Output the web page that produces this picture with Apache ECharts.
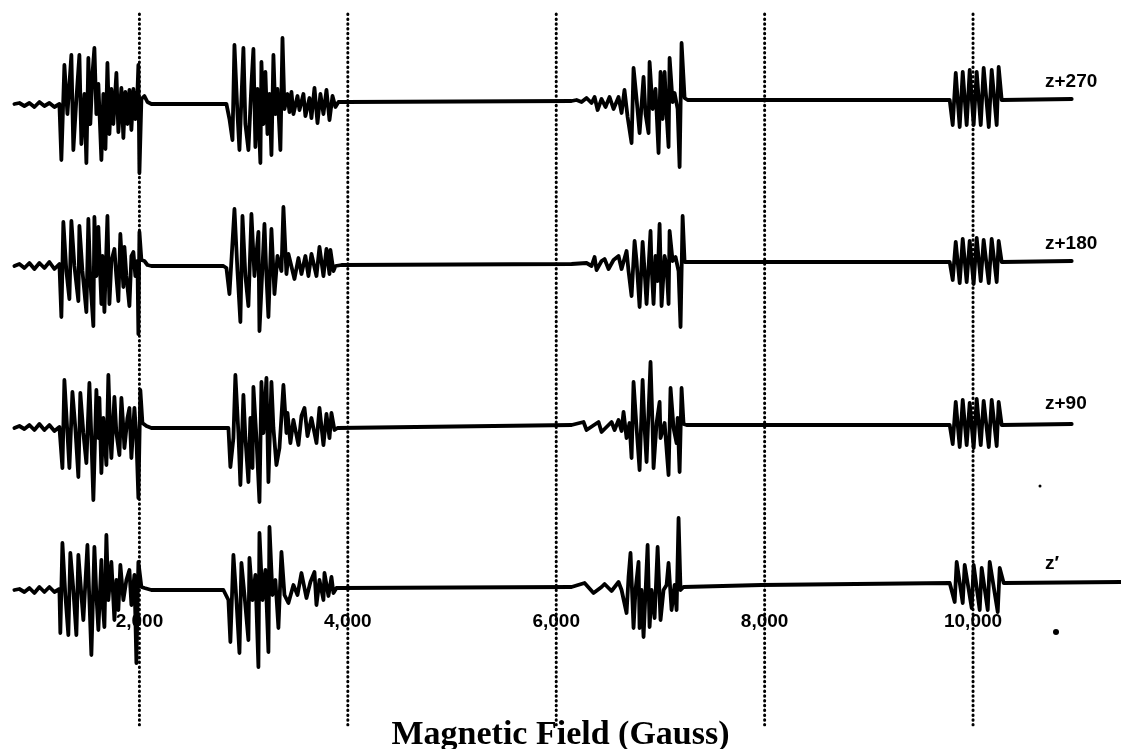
<!DOCTYPE html>
<html><head><meta charset="utf-8">
<script src="https://cdn.jsdelivr.net/npm/echarts@6/dist/echarts.min.js"></script>
<style>html,body{margin:0;padding:0;background:#fff}#c{width:1121px;height:749px}</style>
</head><body><div id="c"></div>
<script>
// Trace labels (top to bottom)
const traceNames = ['z+270', 'z+180', 'z+90', 'z\u2032'];

// Field (Gauss), signal (arbitrary units, + = up)
const traceZ270 = [
 [800,0],[848,1],[896,-2],[944,1],[992,-3],[1040,2],[1088,-2],[1136,1],[1184,-3],[1232,0],
 [1251,-56],[1280,39],[1309,-10],[1347,49],[1366,-46],[1395,5],[1424,49],[1443,-40],[1472,10],[1491,-59],
 [1510,46],[1529,-20],[1549,30],[1568,56],[1587,-10],[1606,20],[1635,-56],[1654,10],[1674,-45],[1693,41],
 [1712,-30],[1731,15],[1750,-20],[1779,31],[1798,-28],[1827,16],[1846,-34],[1865,12],[1885,-20],[1904,14],
 [1923,-26],[1942,15],[1961,-15],[1981,12],[1990,39],[2000,-69],[2019,5],[2048,8],[2077,2],[2115,0],
 [2835,0],[2864,-15],[2893,-36],[2912,59],[2941,-10],[2960,-46],[2998,56],[3017,-20],[3046,-46],[3075,20],
 [3094,55],[3113,-43],[3133,15],[3161,-59],[3171,42],[3190,-20],[3209,32],[3229,-30],[3248,10],[3267,-51],
 [3286,49],[3305,-10],[3325,15],[3353,-46],[3373,66],[3392,-5],[3421,10],[3440,-8],[3459,12],[3478,-10],
 [3517,8],[3536,-6],[3574,10],[3593,-12],[3632,6],[3651,-14],[3680,16],[3709,-19],[3737,10],[3766,-10],
 [3795,14],[3824,-16],[3853,8],[3881,-3],[3910,2],[3987,2],
 [6147,3],[6195,4],[6243,2],[6291,6],[6339,1],[6368,7],[6397,-6],[6435,5],[6473,-3],[6512,7],
 [6550,-5],[6598,7],[6627,-9],[6655,14],[6685,-13],[6723,-39],[6742,36],[6771,5],[6800,-29],[6838,27],
 [6857,-10],[6886,-29],[6896,42],[6925,-5],[6953,15],[6982,-49],[7001,32],[7021,-15],[7040,32],[7059,-10],
 [7078,-43],[7088,46],[7117,2],[7136,11],[7165,-5],[7184,-63],[7203,61],[7232,6],[7261,4],[7971,4],
 [9776,4],[9805,-21],[9834,31],[9872,-23],[9901,32],[9939,-21],[9968,34],[10006,-21],[10035,32],[10074,-21],
 [10102,36],[10151,-23],[10179,34],[10227,-21],[10246,37],[10275,4],[10947,5]
];

const traceZ180 = [
 [800,0],[848,2],[896,-2],[944,3],[992,-3],[1040,3],[1088,-2],[1136,4],[1184,-3],[1232,2],
 [1251,-51],[1270,44],[1299,-5],[1328,-33],[1347,45],[1376,0],[1414,-35],[1424,40],[1453,-5],[1491,-46],
 [1510,47],[1529,-15],[1558,-60],[1568,49],[1587,-10],[1606,39],[1635,-38],[1645,10],[1664,-46],[1693,50],
 [1712,-38],[1731,5],[1760,17],[1779,-11],[1798,-35],[1817,32],[1837,-5],[1846,-21],[1856,19],[1875,-10],
 [1904,-40],[1923,10],[1942,14],[1961,-10],[1981,5],[1990,-68],[2000,34],[2019,6],[2048,5],[2077,1],[2115,0],
 [2806,0],[2835,-2],[2864,-28],[2912,57],[2941,-5],[2969,-56],[2989,50],[3017,-10],[3046,-40],[3075,52],
 [3104,-10],[3142,34],[3152,-65],[3200,42],[3219,-10],[3238,-51],[3267,37],[3296,-28],[3325,10],[3363,-5],
 [3382,59],[3411,-8],[3430,12],[3488,-13],[3526,8],[3555,-8],[3593,10],[3622,-10],[3651,12],[3699,-10],
 [3728,19],[3766,-10],[3795,17],[3824,-8],[3833,16],[3862,-5],[3881,0],[3939,1],
 [6147,2],[6291,3],[6339,0],[6368,9],[6387,-4],[6435,5],[6464,7],[6502,-3],[6550,6],[6598,10],
 [6627,-3],[6675,15],[6694,-5],[6723,-30],[6752,25],[6771,5],[6800,-41],[6829,24],[6848,-5],[6867,-38],
 [6905,35],[6915,0],[6934,-38],[6953,10],[6973,-15],[6992,42],[7011,-40],[7040,10],[7059,0],[7078,-38],
 [7088,35],[7117,5],[7145,9],[7174,-5],[7193,-61],[7213,50],[7232,4],[7251,3],[7971,4],
 [9776,4],[9805,-14],[9834,24],[9872,-17],[9901,27],[9939,-16],[9968,25],[10006,-18],[10035,28],[10074,-15],
 [10102,26],[10151,-17],[10179,27],[10227,-16],[10246,25],[10275,4],[10947,5]
];

const traceZ90 = [
 [800,0],[848,2],[896,-1],[944,3],[992,-2],[1040,4],[1088,-2],[1136,3],[1184,-3],[1232,1],
 [1261,-40],[1280,48],[1309,-5],[1328,-40],[1357,36],[1385,0],[1414,-49],[1433,35],[1462,-5],[1491,-35],
 [1520,45],[1539,-10],[1558,-72],[1587,38],[1606,-10],[1616,30],[1635,-45],[1654,10],[1683,-37],[1702,53],
 [1721,-10],[1731,-30],[1760,31],[1779,-5],[1808,-27],[1827,30],[1846,0],[1856,-20],[1885,10],[1904,20],
 [1923,-30],[1952,20],[1971,-10],[1990,-70],[2009,38],[2029,5],[2067,2],[2115,0],
 [2854,0],[2873,-39],[2902,-10],[2921,53],[2950,-5],[2969,-57],[2998,33],[3017,-10],[3046,-54],[3065,10],
 [3085,-40],[3094,41],[3123,-10],[3152,-74],[3171,46],[3190,-5],[3219,50],[3238,-54],[3267,46],[3286,0],
 [3315,-37],[3344,-20],[3382,43],[3411,-5],[3421,15],[3449,-15],[3478,8],[3526,-17],[3555,12],[3584,20],
 [3613,-8],[3651,10],[3699,-15],[3728,20],[3766,-17],[3795,14],[3824,-10],[3843,15],[3872,-2],[3901,0],
 [6147,3],[6262,6],[6291,-2],[6406,6],[6435,-4],[6531,6],[6560,-2],[6598,8],[6627,-3],[6646,16],
 [6675,-10],[6703,5],[6723,-30],[6742,46],[6771,0],[6800,-42],[6829,48],[6848,0],[6867,-34],[6905,66],
 [6925,0],[6934,-40],[6963,5],[6992,26],[7001,-10],[7040,5],[7078,-47],[7097,40],[7126,0],[7155,-15],
 [7165,10],[7184,-44],[7203,40],[7222,4],[7251,3],[7971,3],
 [9776,3],[9805,-16],[9834,26],[9872,-19],[9901,28],[9939,-17],[9968,25],[10006,-20],[10035,29],[10074,-17],
 [10102,27],[10151,-19],[10179,28],[10227,-18],[10246,26],[10275,3],[10947,4]
];

const traceZp = [
 [800,0],[848,1],[896,-2],[944,2],[992,-3],[1040,3],[1088,-2],[1136,3],[1184,-2],[1232,1],
 [1241,-43],[1261,47],[1289,-5],[1318,-45],[1337,37],[1366,0],[1395,-45],[1414,35],[1443,-5],[1462,-30],
 [1501,45],[1520,-10],[1539,-65],[1568,43],[1587,-5],[1606,-40],[1635,30],[1645,-10],[1664,-37],[1683,55],
 [1702,-10],[1731,28],[1760,-30],[1779,10],[1798,-20],[1817,25],[1846,-10],[1875,10],[1904,20],[1923,-15],
 [1952,15],[1971,-73],[1990,28],[2019,3],[2048,2],[2115,0],
 [2806,0],[2854,-10],[2873,-52],[2902,35],[2931,-10],[2960,-63],[2979,27],[3008,-5],[3046,-50],[3056,32],
 [3085,-10],[3113,15],[3142,-77],[3152,57],[3181,-10],[3209,20],[3238,-62],[3248,63],[3277,-5],[3305,10],
 [3334,-38],[3363,38],[3392,-5],[3430,-13],[3478,5],[3517,-5],[3555,17],[3603,-8],[3641,8],[3680,18],
 [3699,-15],[3728,10],[3766,-10],[3776,17],[3814,-6],[3843,13],[3862,-3],[3891,2],[3939,2],
 [6147,3],[6272,7],[6358,-3],[6435,3],[6464,6],[6531,-1],[6598,8],[6627,0],[6646,-2],[6675,-23],
 [6694,13],[6713,37],[6742,-38],[6761,0],[6790,28],[6800,-38],[6819,0],[6838,-47],[6877,45],[6896,-37],
 [6915,0],[6944,-28],[6973,43],[7001,-30],[7030,0],[7059,5],[7078,27],[7107,-20],[7136,5],[7155,-20],
 [7174,72],[7193,0],[7222,3],[7971,5],
 [9776,7],[9824,-12],[9843,28],[9901,-13],[9920,25],[9987,-18],[10006,25],[10064,-20],[10083,22],[10141,-20],
 [10160,28],[10237,-22],[10256,22],[10294,7],[11437,8]
];

// Dotted reference fields and tick labels
const gridFields = [2000, 4000, 6000, 8000, 10000];
const tickLabels = ['2,000', '4,000', '6,000', '8,000', '10,000'];
const axisTitle = 'Magnetic Field (Gauss)';

const traces = [traceZ270, traceZ180, traceZ90, traceZp];
const baselines = [104, 266, 428, 590];
const labelY = [83, 245, 405, 565];
const FMIN = 662, FMAX = 11420;

const grid = baselines.map(b => ({left: 0, right: 0, top: b - 100, height: 200}));
grid.push({left: 0, right: 0, top: 13, height: 712});   // dotted lines
grid.push({left: 0, right: 0, top: 12, height: 598});   // tick labels

const xAxis = grid.map((g, i) => ({
  type: 'value', gridIndex: i, min: FMIN, max: FMAX, show: i === 5,
  axisLine: {show: false}, axisTick: {show: false}, splitLine: {show: false},
  axisLabel: i === 5 ? {
    customValues: gridFields, margin: 2,
    formatter: v => tickLabels[gridFields.indexOf(v)] || '',
    fontFamily: 'Liberation Sans', fontWeight: 'bold', fontSize: 19, color: '#000'
  } : {show: false}
}));
const yAxis = grid.map((g, i) => ({
  type: 'value', gridIndex: i, show: false,
  min: i < 4 ? -100 : 0, max: i < 4 ? 100 : 1
}));

const series = [];
gridFields.forEach(f => series.push({
  type: 'line', xAxisIndex: 4, yAxisIndex: 4, data: [[f, 0], [f, 1]],
  showSymbol: false, silent: true, z: 1,
  lineStyle: {color: '#000', width: 3, type: [0.5, 4.3], cap: 'round'}
}));
traces.forEach((t, i) => series.push({
  type: 'line', name: traceNames[i], xAxisIndex: i, yAxisIndex: i, data: t,
  showSymbol: false, z: 3, clip: false,
  lineStyle: {color: '#000', width: 3.8, join: 'round', cap: 'round'}
}));

const graphic = traceNames.map((n, i) => ({
  type: 'text', left: 1045, top: labelY[i] - 11,
  style: {text: n, font: 'bold 19px "Liberation Sans"', fill: '#000'}
}));
graphic.push({type: 'circle', shape: {cx: 1056, cy: 632, r: 3}, style: {fill: '#000'}});
graphic.push({type: 'circle', shape: {cx: 1040, cy: 486, r: 1.5}, style: {fill: '#000'}});

const chart = echarts.init(document.getElementById('c'));
chart.setOption({
  animation: false,
  backgroundColor: '#fff',
  title: {text: axisTitle, left: 'center', top: 713,
    textStyle: {fontFamily: 'Liberation Serif', fontWeight: 'bold', fontSize: 34, color: '#000'}},
  grid, xAxis, yAxis, series, graphic
});
</script>
</body></html>
